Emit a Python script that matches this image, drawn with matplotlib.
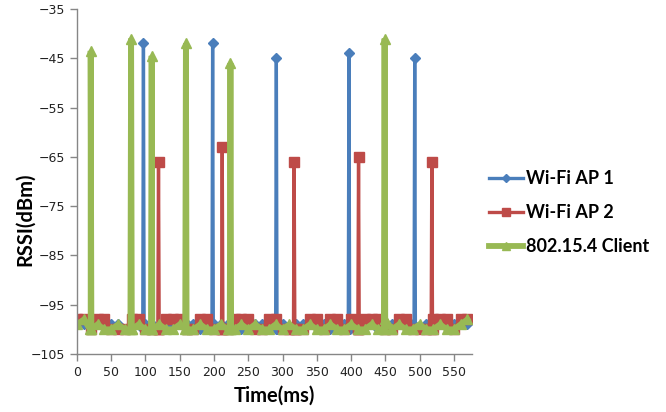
import matplotlib
matplotlib.use("Agg")
import matplotlib.pyplot as plt
import numpy as np

# ---- data ----
base_t = list(range(0, 580, 10))  # baseline sample times (ms)

ap1_base = [-99, -99, -100, -99, -99, -99, -99, -100, -99, -99,
            -99, -99, -100, -99, -99, -99, -99, -99, -100, -99,
            -99, -99, -99, -99, -100, -99, -99, -99, -99, -99,
            -99, -100, -99, -99, -99, -99, -99, -100, -99, -99,
            -99, -99, -99, -99, -100, -99, -99, -99, -99, -99,
            -100, -99, -99, -99, -99, -99, -99, -99]
ap2_base = [-98, -98, -100, -98, -98, -100, -100, -100, -98, -98,
            -100, -100, -100, -98, -98, -98, -100, -100, -98, -98,
            -100, -100, -100, -98, -98, -98, -100, -100, -98, -98,
            -100, -100, -100, -100, -98, -98, -100, -98, -98, -100,
            -98, -100, -98, -98, -98, -100, -100, -98, -98, -100,
            -100, -100, -98, -98, -98, -100, -98, -98]
client_base = [-99, -98, -100, -99, -100, -100, -99, -100, -100, -99,
               -100, -100, -99, -100, -100, -99, -100, -100, -99, -100,
               -100, -99, -100, -100, -99, -100, -99, -100, -100, -99,
               -100, -99, -100, -100, -99, -100, -100, -99, -100, -100,
               -99, -100, -100, -99, -100, -98, -100, -99, -100, -100,
               -99, -100, -100, -99, -100, -100, -99, -98]

ap1_spike_t = [97, 198, 291, 397, 493]
ap1_spike_v = [-42, -42, -45, -44, -45]
ap2_spike_t = [119, 212, 317, 411, 518]
ap2_spike_v = [-66, -63, -66, -65, -66]
client_spike_t = [20, 79, 109, 159, 224, 449]
client_spike_v = [-43.5, -41, -44.5, -42, -46, -41]

series_names = ["Wi-Fi AP 1", "Wi-Fi AP 2", "802.15.4 Client"]
x_ticks = list(range(0, 551, 50))
y_ticks = list(range(-105, -34, 10))


def build(base_v, sp_t, sp_v, floor=-100):
    pts = list(zip(base_t, base_v))
    for t, v in zip(sp_t, sp_v):
        pts += [(t - 1, floor), (t, v), (t + 1, floor)]
    pts.sort()
    return [p[0] for p in pts], [p[1] for p in pts]


fig = plt.figure(figsize=(6.66, 4.12), dpi=100)
ax = fig.add_axes([0.1156, 0.1408, 0.5935, 0.8374])

blue, red, green = "#4A7EBB", "#BE4B48", "#98B954"
styles = [
    (ap1_base, ap1_spike_t, ap1_spike_v, blue, "D", 5.5, 2.4),
    (ap2_base, ap2_spike_t, ap2_spike_v, red, "s", 6.5, 2.4),
    (client_base, client_spike_t, client_spike_v, green, "^", 7.5, 4.2),
]
for (bv, st, sv, c, m, ms, lw), name in zip(styles, series_names):
    x, y = build(bv, st, sv)
    ax.plot(x, y, color=c, marker=m, markersize=ms, linewidth=lw,
            markeredgecolor=c, label=name, solid_joinstyle="miter")

ax.set_xlim(0, 577)
ax.set_ylim(-105, -35)
ax.set_xticks(x_ticks)
ax.set_yticks(y_ticks)
for s in ["top", "right"]:
    ax.spines[s].set_visible(False)
for s in ["left", "bottom"]:
    ax.spines[s].set_color("#868686")
    ax.spines[s].set_linewidth(1.0)
ax.tick_params(axis="both", colors="#868686", labelcolor="#222222",
               labelsize=9, length=5, width=1)

lab_font = dict(fontsize=14.5, fontweight="bold", family=["Lato", "DejaVu Sans"])
ax.set_xlabel("Time(ms)", labelpad=5, **lab_font)
ax.set_ylabel("RSSI(dBm)", labelpad=4, **lab_font)
ax.yaxis.set_label_coords(-0.107, 0.39)

leg = ax.legend(loc="center left", bbox_to_anchor=(1.0, 0.41), frameon=False,
                prop=dict(size=13, weight="bold", family=["Lato", "DejaVu Sans"]),
                handlelength=1.9, labelspacing=0.95, handletextpad=0.15,
                markerscale=0.8)

fig.savefig("out.png", dpi=100)
